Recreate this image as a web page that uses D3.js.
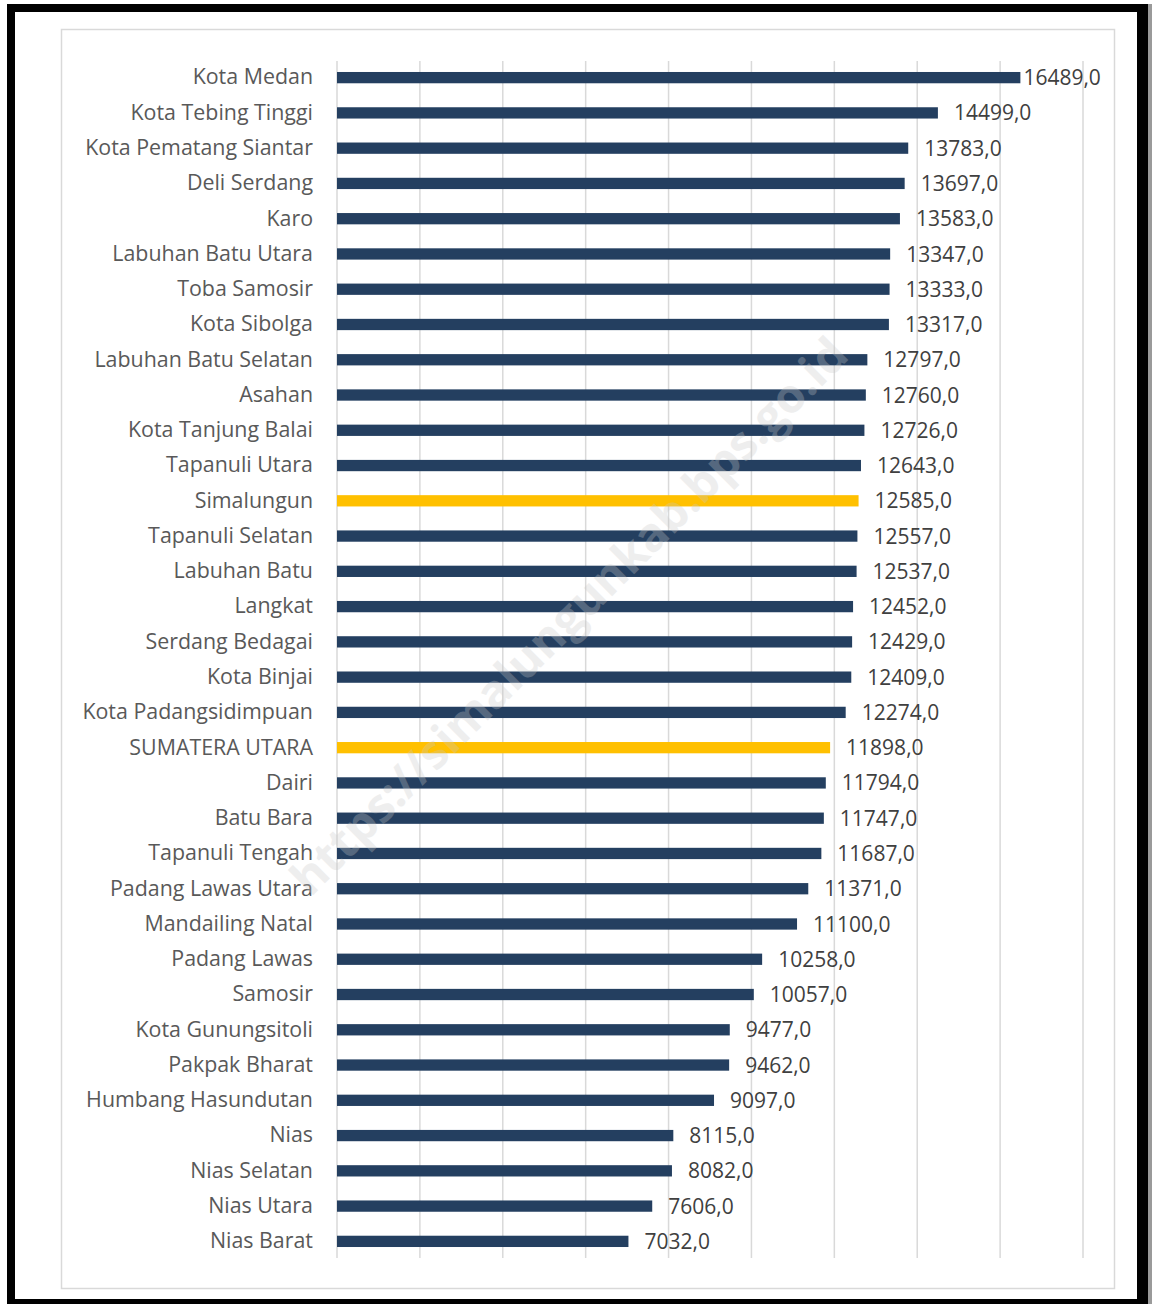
<!DOCTYPE html>
<html>
<head>
<meta charset="utf-8">
<title>Sumatera Utara</title>
<script src="https://cdn.jsdelivr.net/npm/d3@7"></script>
<style>
  body { margin: 0; background: #fff; }
  .cat text { font: 21.4px "Open Sans", sans-serif; fill: #595959; }
  .val { font: 21px "Open Sans", sans-serif; fill: #404040; }
</style>
</head>
<body>
<div id="chart"></div>
<script>
// kabupaten / kota, top to bottom
var categories = [
  "Kota Medan", "Kota Tebing Tinggi", "Kota Pematang Siantar", "Deli Serdang", "Karo",
  "Labuhan Batu Utara", "Toba Samosir", "Kota Sibolga", "Labuhan Batu Selatan", "Asahan",
  "Kota Tanjung Balai", "Tapanuli Utara", "Simalungun", "Tapanuli Selatan", "Labuhan Batu",
  "Langkat", "Serdang Bedagai", "Kota Binjai", "Kota Padangsidimpuan", "SUMATERA UTARA",
  "Dairi", "Batu Bara", "Tapanuli Tengah", "Padang Lawas Utara", "Mandailing Natal",
  "Padang Lawas", "Samosir", "Kota Gunungsitoli", "Pakpak Bharat", "Humbang Hasundutan",
  "Nias", "Nias Selatan", "Nias Utara", "Nias Barat"
];
var values = [
  16489, 14499, 13783, 13697, 13583,
  13347, 13333, 13317, 12797, 12760,
  12726, 12643, 12585, 12557, 12537,
  12452, 12429, 12409, 12274, 11898,
  11794, 11747, 11687, 11371, 11100,
  10258, 10057, 9477, 9462, 9097,
  8115, 8082, 7606, 7032
];
var highlighted = ["Simalungun", "SUMATERA UTARA"];
var gridTicks = [0, 2000, 4000, 6000, 8000, 10000, 12000, 14000, 16000, 18000];

var W = 1152, H = 1304;
var svg = d3.select("#chart").append("svg")
  .attr("width", W).attr("height", H);

// frame
svg.append("rect").attr("x", 1148).attr("y", 4).attr("width", 4).attr("height", 1300).attr("fill", "#9a9a9a");
svg.append("rect").attr("x", 7).attr("y", 4).attr("width", 1141).attr("height", 1300).attr("fill", "#000");
svg.append("rect").attr("x", 15).attr("y", 12).attr("width", 1122).attr("height", 1287).attr("fill", "#fff");
svg.append("rect").attr("x", 61.5).attr("y", 29.5).attr("width", 1053).attr("height", 1259)
  .attr("fill", "#fff").attr("stroke", "#d9d9d9").attr("stroke-width", 1.5);

var x = d3.scaleLinear().domain([0, 18000]).range([337, 1083]);
var y = d3.scaleBand().domain(categories).range([60, 1259])
  .paddingInner(0.68).paddingOuter(0.34);

// gridlines
svg.append("g").selectAll("line").data(gridTicks).enter().append("line")
  .attr("x1", function(d) { return x(d); }).attr("x2", function(d) { return x(d); })
  .attr("y1", 61).attr("y2", 1258)
  .attr("stroke", "#d9d9d9").attr("stroke-width", 1.5);

var data = categories.map(function(c, i) { return { cat: c, value: values[i] }; });

svg.append("g").selectAll("rect").data(data).enter().append("rect")
  .attr("x", x(0))
  .attr("y", function(d) { return y(d.cat); })
  .attr("width", function(d) { return x(d.value) - x(0); })
  .attr("height", y.bandwidth())
  .attr("fill", function(d) { return highlighted.indexOf(d.cat) >= 0 ? "#ffc000" : "#243f60"; });

// category axis
var yAxis = svg.append("g").attr("class", "cat")
  .attr("transform", "translate(" + x(0) + ",0)")
  .call(d3.axisLeft(y).tickSize(0).tickPadding(24));
yAxis.select(".domain").remove();

// value labels
var fmt = d3.formatLocale({ decimal: ",", thousands: ".", grouping: [0], currency: ["", ""] }).format(".1f");
svg.append("g").selectAll("text").data(data).enter().append("text")
  .attr("class", "val")
  .attr("x", function(d) { return x(d.value) + (x(d.value) + 95 > x(18000) ? 3 : 16); })
  .attr("y", function(d) { return y(d.cat) + y.bandwidth() / 2; })
  .attr("dy", "0.36em")
  .text(function(d) { return fmt(d.value); });

// watermark
svg.append("text")
  .attr("transform", "translate(569,616) rotate(-45)")
  .attr("text-anchor", "middle").attr("dy", "0.35em")
  .style("font", "bold 47px 'Open Sans', sans-serif")
  .attr("fill", "#c8c8c8").attr("opacity", 0.3)
  .text("https://simalungunkab.bps.go.id");
</script>
</body>
</html>
